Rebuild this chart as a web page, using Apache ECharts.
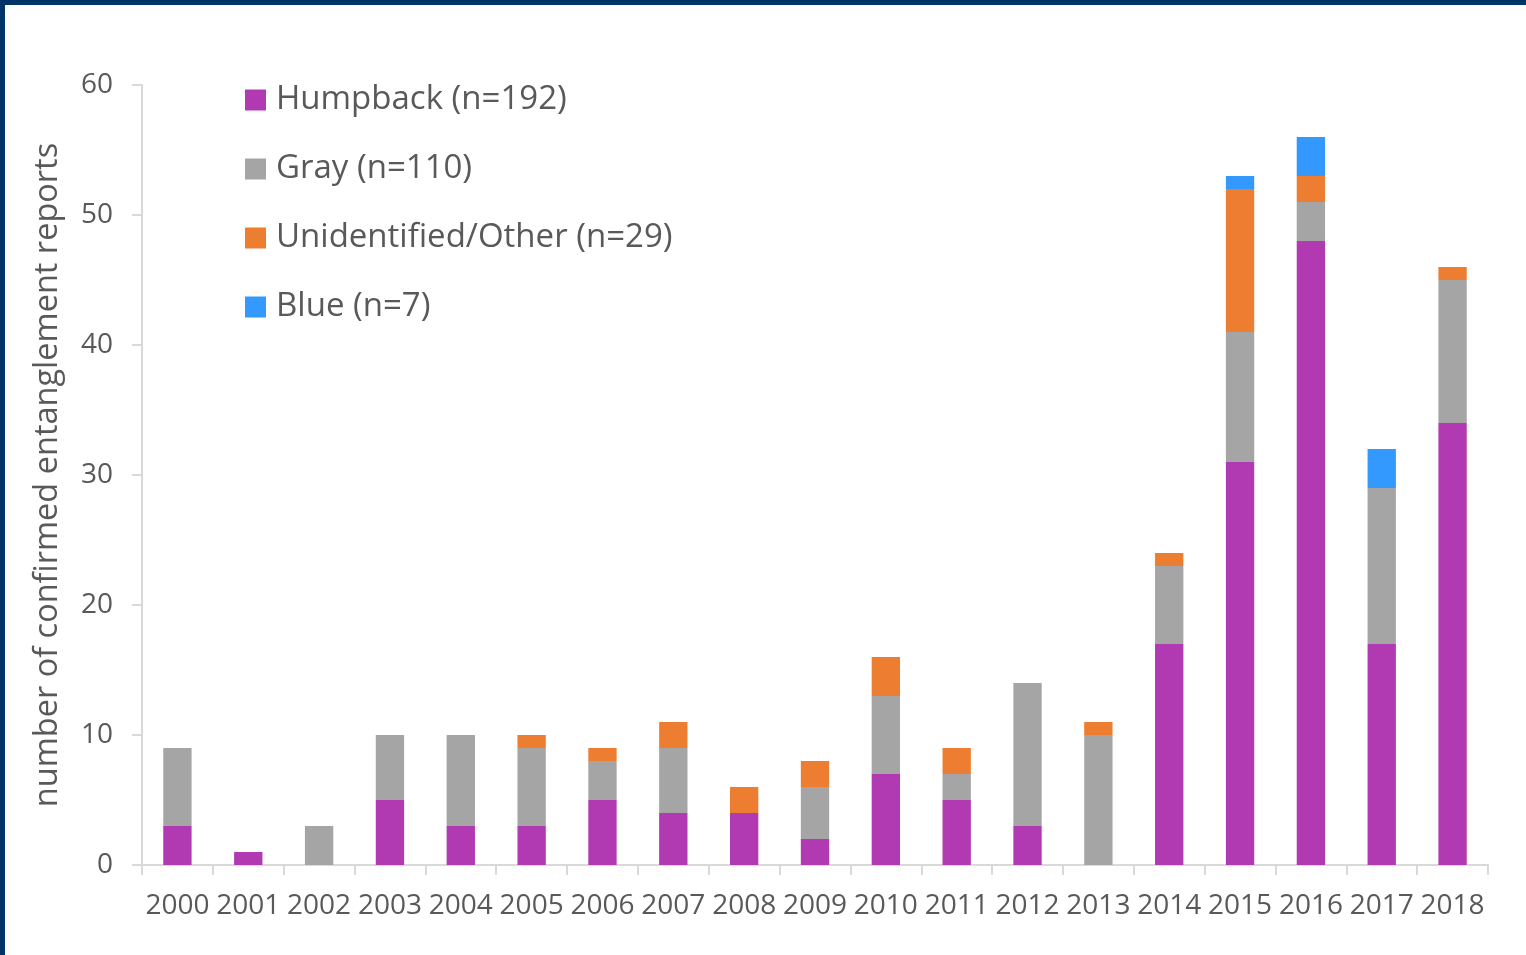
<!DOCTYPE html>
<html>
<head>
<meta charset="utf-8">
<script src="https://cdn.jsdelivr.net/npm/echarts@6/dist/echarts.min.js"></script>
<style>
html,body{margin:0;padding:0;background:#fff;}
#chart{position:absolute;left:0;top:0;width:1526px;height:955px;}
#bt{position:absolute;left:0;top:0;width:1526px;height:5px;background:#003366;}
#bl{position:absolute;left:0;top:0;width:5px;height:955px;background:#003366;}
</style>
</head>
<body>
<div id="chart"></div>
<div id="bt"></div>
<div id="bl"></div>
<script>
const years = ['2000','2001','2002','2003','2004','2005','2006','2007','2008','2009','2010','2011','2012','2013','2014','2015','2016','2017','2018'];
const humpback = [3,1,0,5,3,3,5,4,4,2,7,5,3,0,17,31,48,17,34];
const gray =     [6,0,3,5,7,6,3,5,0,4,6,2,11,10,6,10,3,12,11];
const unident =  [0,0,0,0,0,1,1,2,2,2,3,2,0,1,1,11,2,0,1];
const blue =     [0,0,0,0,0,0,0,0,0,0,0,0,0,0,0,1,3,3,0];
const seriesNames = ['Humpback (n=192)','Gray (n=110)','Unidentified/Other (n=29)','Blue (n=7)'];
const yTicks = [0,10,20,30,40,50,60];

const FONT = '"Open Sans", "Noto Sans", sans-serif';
const TXT = '#595959';
const chart = echarts.init(document.getElementById('chart'), null, {renderer:'canvas'});
function mk(name, data, color){
  return {name, type:'bar', stack:'all', data, barWidth:'40%', itemStyle:{color}, emphasis:{disabled:true}};
}
chart.setOption({
  animation:false,
  textStyle:{fontFamily:FONT},
  grid:{left:142, right:38, top:85, bottom:90, containLabel:false},
  legend:{
    orient:'vertical', left:240, top:77, itemWidth:21, itemHeight:21, itemGap:33,
    icon:'rect',
    textStyle:{fontFamily:FONT, fontSize:33, color:TXT, lineHeight:36, padding:[0,0,0,5]},
    data:seriesNames
  },
  xAxis:{
    type:'category', data:years, boundaryGap:true,
    axisLine:{lineStyle:{color:'#d9d9d9', width:2}},
    axisTick:{show:true, length:10, lineStyle:{color:'#d9d9d9', width:2}, alignWithLabel:false},
    axisLabel:{fontFamily:FONT, fontSize:28, color:TXT, margin:27, interval:0}
  },
  yAxis:{
    type:'value', min:yTicks[0], max:yTicks[yTicks.length-1], interval:10,
    name:'number of confirmed entanglement reports', nameLocation:'middle', nameGap:78,
    nameTextStyle:{fontFamily:FONT, fontSize:32.5, color:TXT},
    axisLine:{show:true, lineStyle:{color:'#d9d9d9', width:2}},
    axisTick:{show:true, length:10, lineStyle:{color:'#d9d9d9', width:2}},
    splitLine:{show:false},
    axisLabel:{fontFamily:FONT, fontSize:28, color:TXT, margin:29}
  },
  series:[
    mk(seriesNames[0], humpback, '#B139B1'),
    mk(seriesNames[1], gray, '#A5A5A5'),
    mk(seriesNames[2], unident, '#ED7D31'),
    mk(seriesNames[3], blue, '#3399FF')
  ]
});
</script>
</body>
</html>
